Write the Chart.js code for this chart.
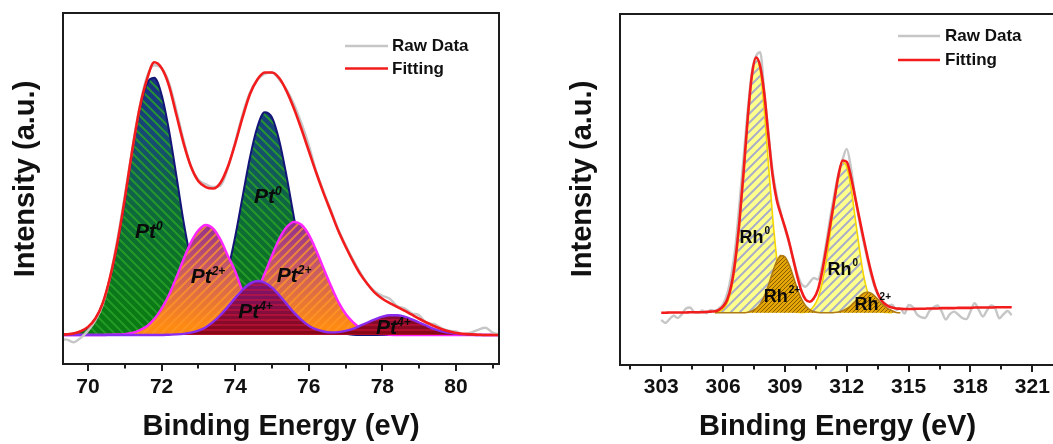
<!DOCTYPE html>
<html><head><meta charset="utf-8">
<script src="https://cdn.jsdelivr.net/npm/chart.js@4.4.1/dist/chart.umd.min.js"></script>
<style>
html,body{margin:0;padding:0;background:#fff;overflow:hidden;width:1053px;height:444px;position:relative;}
#c1{position:absolute;left:0;top:0;}
#c2{position:absolute;left:557px;top:0;}
</style></head><body>
<canvas id="c1" width="530" height="444"></canvas>
<canvas id="c2" width="529" height="444"></canvas>
<script>
// ---------------- Pt 4f panel ----------------
const ptEnergy = [
 69.2,69.4,69.6,69.8,70.0,70.2,70.4,70.6,70.8,71.0,
 71.2,71.4,71.6,71.8,72.0,72.2,72.4,72.6,72.8,73.0,
 73.2,73.4,73.6,73.8,74.0,74.2,74.4,74.6,74.8,75.0,
 75.2,75.4,75.6,75.8,76.0,76.2,76.4,76.6,76.8,77.0,
 77.2,77.4,77.6,77.8,78.0,78.2,78.4,78.6,78.8,79.0,
 79.2,79.4,79.6,79.8,80.0,80.2,80.4,80.6,80.8,81.0,
 81.2];
const ptFit = [
 0,0.2,0.5,1.3,2.8,5.7,11,20,32,47,
 63.5,78,88,94,92,86,76,66,58,53,
 51,50.5,52.5,58,66,75,83,88,90.5,90.5,
 88.5,84,78,71,63.5,56,49,42.5,36,30.5,
 25.5,21,17.5,14.5,12.5,11,9.7,8.4,7,5.6,
 4.3,3.1,2.1,1.3,0.7,0.4,0.2,0.1,0,0,
 0];
const ptRaw = [
 -2.0,-1.5,-2.5,-1.0,1.5,5.0,10.5,20,33,48,
 64,78.5,89,93,92,87,77.5,67,58,53.5,
 52,51,51.5,57.5,66.5,76,83.5,88,90,90.5,
 88,84.5,79.5,73,65.5,56.5,49.5,43,36.5,31,
 26,21.5,17.5,15,13.5,12.5,10,9.2,7.5,6.8,
 4.2,3.8,2.4,1.5,1.2,0.3,0.8,1.8,2.5,0.8,
 0.2];
const pt0 = [
 0,0.1,0.4,1.2,2.7,5.6,10.9,19.6,31.6,46.5,
 63,77.3,86.7,88.7,82.8,70.6,55,38.8,25.7,16.4,
 11.3,10.8,14.7,22.4,33.9,47.6,61.1,71.6,76.8,75,
 66.9,54.5,40.3,27.3,16.9,9.4,4.9,2.3,1.0,0.4,
 0.1,0,0,0,0,0,0,0,0,0,
 0,0,0,0,0,0,0,0,0,0,
 0];
const pt2 = [
 0,0,0,0,0,0,0,0.1,0.2,0.3,
 0.7,1.6,3.0,5.5,9.1,13.8,19.8,26.2,32,36.1,
 37.9,36.7,32.9,27.3,22,15.2,12,15.3,21.1,27.4,
 33.2,37.2,39,38,34.6,29.2,23,17,11.5,7.3,
 4.4,2.4,1.2,0.6,0.3,0.1,0,0,0,0,
 0,0,0,0,0,0,0,0,0,0,
 0];
const pt4 = [
 0,0,0,0,0,0,0,0,0,0,
 0,0,0,0,0,0.1,0.2,0.4,0.8,1.5,
 2.7,4.5,6.9,9.7,12.8,15.6,17.7,18.6,18.1,16.3,
 13.7,10.7,7.7,5.2,3.2,1.9,1.2,0.9,1.0,1.4,
 2.1,3.2,4.3,5.4,6.3,6.8,6.8,6.3,5.4,4.3,
 3.2,2.1,1.3,0.8,0.4,0.2,0.1,0,0,0,
 0];
const ptLabelMain = ['Pt','Pt','Pt','Pt','Pt','Pt'];
const ptLabelSup  = ['0','0','2+','2+','4+','4+'];
const ptLabelE    = [71.28,74.51,72.79,75.13,74.08,77.83];
const ptLabelI    = [33.3,45.4,17.8,18.4,5.8,0.2];
const ptTicks = {min:69.32, max:81.17, step:2};

// ---------------- Rh 3d panel ----------------
const rhEnergy = [
 303.0,303.2,303.4,303.6,303.8,304.0,304.2,304.4,304.6,304.8,
 305.0,305.2,305.4,305.6,305.8,306.0,306.2,306.4,306.6,306.8,
 307.0,307.2,307.4,307.6,307.8,308.0,308.2,308.4,308.6,308.8,
 309.0,309.2,309.4,309.6,309.8,310.0,310.2,310.4,310.6,310.8,
 311.0,311.2,311.4,311.6,311.8,312.0,312.2,312.4,312.6,312.8,
 313.0,313.2,313.4,313.6,313.8,314.0,314.2,314.4,314.6,314.8,
 315.0,315.2,315.4,315.6,315.8,316.0,316.2,316.4,316.6,316.8,
 317.0,317.2,317.4,317.6,317.8,318.0,318.2,318.4,318.6,318.8,
 319.0,319.2,319.4,319.6,319.8,320.0];
const rhFit = [
 0,0,0.1,0.1,0.1,0.1,0.1,0.2,0.2,0.2,
 0.2,0.3,0.4,0.5,1.0,2.2,4.5,9.5,18.5,32,
 49,67.5,82,88,85,75.5,61,47.5,39,34,
 29.5,24.5,18.5,12.5,7.5,4.6,3.8,5.0,8.0,14,
 22,30.5,39,47.5,52.5,52,47,40,33,26,
 19.5,13.5,8.5,5.2,3.3,2.3,1.8,1.5,1.4,1.3,
 1.3,1.3,1.4,1.4,1.4,1.5,1.5,1.5,1.6,1.6,
 1.6,1.6,1.7,1.7,1.7,1.7,1.8,1.8,1.8,1.8,
 1.8,1.9,1.9,1.9,1.9,1.9];
const rhRaw = [
 -2.5,-3.5,-2.2,-1.0,-1.8,-0.5,1.5,1.8,0.2,0.0,
 0.8,-0.2,1.0,0.6,1.5,3.0,6.5,13,23,38,
 54,70,83,88.5,89.8,76,62,49,40.5,34.5,
 29,24,18.5,13.5,10,9,10.5,12,11.5,16,
 24,33,41,48,53,56.5,50,40.5,32,25,
 18.5,12.5,8,5,3.5,2.5,2.8,1.0,1.5,-0.3,
 2.7,2.0,-0.5,-1.5,-1.8,0.5,1.8,2.5,0.5,-2.3,
 -0.5,0.4,-0.6,-1.8,-2.2,0.5,3.3,1.0,-1.3,0.8,
 2.5,1.5,-1.9,-0.5,0.6,-0.8];
const rh0 = [
 null,null,null,null,null,null,null,null,null,null,
 null,null,null,0,0.4,1.3,3.5,8.2,16.8,30.4,
 47.5,66.4,81.6,88,83.6,69.8,51.2,33.4,19,9.5,
 4.2,1.7,0.6,0.2,0.1,0.3,0.9,2.3,5.0,10.1,
 17.7,27.8,38.4,47.4,51.8,50.3,43.4,33.1,22.7,13.5,
 7.3,3.4,1.5,0.6,0.2,0.1,0,null,null,null,
 null,null,null,null,null,null,null,null,null,null,
 null,null,null,null,null,null,null,null,null,null,
 null,null,null,null,null,null];
const rh2 = [
 null,null,null,null,null,null,null,null,null,null,
 null,null,null,0,0,0,0,0,0,0,
 0,0.2,0.6,1.4,3.0,5.7,9.5,13.9,17.7,19.7,
 19.3,16.6,12.6,8.2,4.8,2.4,1.1,0.4,0.1,0,
 0,0,0.1,0.3,0.7,1.4,2.5,3.9,5.4,6.7,
 7.1,6.7,5.4,3.9,2.5,1.4,0.7,0.1,0,null,
 null,null,null,null,null,null,null,null,null,null,
 null,null,null,null,null,null,null,null,null,null,
 null,null,null,null,null,null];
const rhLabelMain = ['Rh','Rh','Rh','Rh'];
const rhLabelSup  = ['0','2+','0','2+'];
const rhLabelE    = [306.80,307.97,311.07,312.38];
const rhLabelI    = [24,3.7,13,1.0];
const rhTicks = {min:301.0, max:322.1, step:3};

const xTitle = 'Binding Energy (eV)';
const yTitle = 'Intensity (a.u.)';

// ---------------- helpers ----------------
const FAM = '"Liberation Sans", Arial, Helvetica, sans-serif';
function pts(xs, ys){ return xs.map((x,i)=>({x:x, y:ys[i]})); }

const patCache = new WeakMap();
function hatchFill(spec){
  return function(context){
    const chart = context.chart;
    if (!chart.chartArea || !chart.scales.y) return spec.fallback;
    let cache = patCache.get(chart);
    if (!cache){ cache = {}; patCache.set(chart, cache); }
    if (cache[spec.key]) return cache[spec.key];
    const w = chart.width, h = chart.height;
    const off = document.createElement('canvas');
    off.width = w; off.height = h;
    const g = off.getContext('2d');
    if (spec.stops){
      const ys = chart.scales.y;
      const grad = g.createLinearGradient(0, ys.getPixelForValue(spec.from), 0, ys.getPixelForValue(spec.to));
      spec.stops.forEach(s => grad.addColorStop(s[0], s[1]));
      g.fillStyle = grad;
    } else g.fillStyle = spec.fallback;
    g.fillRect(0,0,w,h);
    g.strokeStyle = spec.hatch; g.lineWidth = spec.lw;
    g.beginPath();
    const s = spec.spacing;
    if (spec.dir === 'h'){
      for (let y=0; y<h; y+=s){ g.moveTo(0,y); g.lineTo(w,y); }
    } else if (spec.dir === 'back'){
      for (let x=-h; x<w+h; x+=s){ g.moveTo(x,0); g.lineTo(x+h*spec.k,h); }
    } else {
      for (let x=-h; x<w+h; x+=s){ g.moveTo(x,h); g.lineTo(x+h*spec.k,0); }
    }
    g.stroke();
    const pat = chart.ctx.createPattern(off, 'no-repeat');
    cache[spec.key] = pat;
    return pat;
  };
}

const frameTicks = {
  id: 'frameTicks',
  afterDraw(chart, args, o){
    const ctx = chart.ctx, a = chart.chartArea, x = chart.scales.x;
    ctx.save();
    ctx.strokeStyle = '#1c1c1c'; ctx.lineWidth = 2;
    ctx.strokeRect(a.left, a.top, a.right - a.left, a.bottom - a.top);
    ctx.beginPath();
    const half = o.step/2;
    const vals = [];
    x.ticks.forEach(t => { vals.push([t.value, true]); vals.push([t.value + half, false]); });
    if (x.ticks.length) vals.push([x.ticks[0].value - half, false]);
    vals.forEach(([v, major]) => {
      if (v < x.min || v > x.max) return;
      const p = Math.round(x.getPixelForValue(v));
      ctx.moveTo(p, a.bottom); ctx.lineTo(p, a.bottom + (major ? 7 : 4.5));
    });
    ctx.stroke();
    ctx.restore();
  }
};

// vertical axis title, centred where the reference places it
const yAxisTitle = {
  id: 'yAxisTitle',
  afterDraw(chart, args, o){
    const ctx = chart.ctx;
    ctx.save();
    ctx.translate(o.x, o.y);
    ctx.rotate(-Math.PI/2);
    ctx.font = o.font; ctx.fillStyle = '#111';
    ctx.textAlign = 'center'; ctx.textBaseline = 'middle';
    ctx.fillText(o.text, 0, 0);
    ctx.restore();
  }
};

const miniLegend = {
  id: 'miniLegend',
  afterDraw(chart, args, o){
    const ctx = chart.ctx;
    ctx.save();
    ctx.font = o.font; ctx.textBaseline = 'middle'; ctx.textAlign = 'left';
    o.order.forEach((di, i) => {
      const ds = chart.data.datasets[di];
      const yy = o.y + i*o.gap;
      ctx.strokeStyle = ds.borderColor; ctx.lineWidth = ds.borderWidth;
      ctx.beginPath(); ctx.moveTo(o.x, yy); ctx.lineTo(o.x + o.len, yy); ctx.stroke();
      ctx.fillStyle = '#111';
      ctx.fillText(ds.label, o.x + o.len + o.pad, yy + 0.5);
    });
    ctx.restore();
  }
};

const peakLabels = {
  id: 'peakLabels',
  afterDatasetsDraw(chart, args, o){
    const ctx = chart.ctx, x = chart.scales.x, y = chart.scales.y;
    ctx.save();
    ctx.fillStyle = '#0a0a0a'; ctx.textBaseline = 'alphabetic'; ctx.textAlign = 'left';
    o.main.forEach((m, i) => {
      const px = x.getPixelForValue(o.e[i]), py = y.getPixelForValue(o.i[i]);
      ctx.font = o.font;
      ctx.fillText(m, px, py);
      const w = ctx.measureText(m).width;
      ctx.font = o.supFont;
      ctx.fillText(o.sup[i], px + w + o.supDx, py - o.rise);
    });
    ctx.restore();
  }
};

function build(canvasId, cfg){
  return new Chart(document.getElementById(canvasId), {
    type: 'line',
    data: { datasets: cfg.datasets },
    options: {
      responsive: false, animation: false, events: [],
      layout: { padding: { top: cfg.top, right: 31, bottom: 0, left: 0 } },
      elements: { point: { radius: 0 }, line: { cubicInterpolationMode: 'monotone' } },
      scales: {
        x: {
          type: 'linear', min: cfg.ticks.min, max: cfg.ticks.max,
          grid: { display: false, drawTicks: false }, border: { display: false },
          ticks: { stepSize: cfg.ticks.step, includeBounds: false, autoSkip: false, maxRotation: 0,
                   color: '#111', padding: cfg.tickPad,
                   font: { family: FAM, size: 21, weight: 'bold', lineHeight: 1.2 } },
          title: { display: true, text: xTitle, color: '#111',
                   font: { family: FAM, size: 29, weight: 'bold', lineHeight: 1.2 },
                   padding: { top: 0, bottom: 0 } },
          afterFit(s){ s.height = 444 - cfg.bottom; }
        },
        y: {
          min: cfg.yMin, max: cfg.yMax,
          grid: { display: false, drawTicks: false }, border: { display: false },
          ticks: { display: false },
          title: { display: false },
          afterFit(s){ s.width = 63; }
        }
      },
      plugins: {
        legend: { display: false }, tooltip: { enabled: false },
        frameTicks: { step: cfg.ticks.step },
        yAxisTitle: { text: yTitle, x: 25.5, y: 179, font: 'bold 29px ' + FAM },
        miniLegend: cfg.legend,
        peakLabels: cfg.labels
      }
    },
    plugins: [frameTicks, yAxisTitle, miniLegend, peakLabels]
  });
}

// Pt chart
build('c1', {
  top: 13, bottom: 364, yMin: -10, yMax: 111, tickPad: 11, ticks: ptTicks,
  legend: { x: 345, y: 46, gap: 22.5, len: 43, pad: 4, order: [1,0], font: 'bold 17px ' + FAM },
  labels: { main: ptLabelMain, sup: ptLabelSup, e: ptLabelE, i: ptLabelI,
            font: 'italic bold 21px ' + FAM, supFont: 'italic bold 12px ' + FAM, supDx: 0, rise: 8 },
  datasets: [
    { label: 'Fitting', data: pts(ptEnergy, ptFit), borderColor: '#f21c1c', borderWidth: 2.6, fill: false },
    { label: 'Raw Data', data: pts(ptEnergy, ptRaw), borderColor: '#c6c6c6', borderWidth: 2.4, fill: false },
    { label: 'Pt4+', data: pts(ptEnergy, pt4), borderColor: '#8a2cf0', borderWidth: 2.4, fill: 'origin',
      backgroundColor: hatchFill({ key: 'pt4', fallback: '#800a30', from: 19, to: 0,
        stops: [[0,'#7a167a'],[1,'#8a0812']], hatch: 'rgba(205,20,60,0.55)', dir: 'h', spacing: 5, lw: 2 }) },
    { label: 'Pt2+', data: pts(ptEnergy, pt2), borderColor: '#ff26ff', borderWidth: 2.4, fill: 'origin',
      backgroundColor: hatchFill({ key: 'pt2', fallback: '#f08020', from: 40, to: 3,
        stops: [[0,'#8c2c92'],[0.45,'#c4586a'],[1,'#ff8a12']], hatch: 'rgba(255,150,40,0.75)', dir: 'fwd', k: 1, spacing: 9, lw: 2 }) },
    { label: 'Pt0', data: pts(ptEnergy, pt0), borderColor: '#141478', borderWidth: 2, fill: 'origin',
      backgroundColor: hatchFill({ key: 'pt0', fallback: '#0a7a16', from: 92, to: 8,
        stops: [[0,'#1a2c86'],[0.3,'#164c74'],[0.6,'#0e6a3a'],[1,'#0a7a14']], hatch: 'rgba(40,160,40,0.85)', dir: 'back', k: 1, spacing: 9, lw: 2 }) }
  ]
});

// Rh chart
build('c2', {
  top: 14, bottom: 365, yMin: -18, yMax: 103, tickPad: 10, ticks: rhTicks,
  legend: { x: 341, y: 36, gap: 24, len: 42, pad: 5, order: [1,0], font: 'bold 17px ' + FAM },
  labels: { main: rhLabelMain, sup: rhLabelSup, e: rhLabelE, i: rhLabelI,
            font: 'bold 18px ' + FAM, supFont: 'bold 10px ' + FAM, supDx: 1, rise: 9.5 },
  datasets: [
    { label: 'Fitting', data: pts(rhEnergy, rhFit), borderColor: '#f21c1c', borderWidth: 2.6, fill: false },
    { label: 'Raw Data', data: pts(rhEnergy, rhRaw), borderColor: '#c6c6c6', borderWidth: 2.4, fill: false },
    { label: 'Rh2+', data: pts(rhEnergy, rh2), borderColor: '#b07a12', borderWidth: 1.6, fill: 'origin',
      backgroundColor: hatchFill({ key: 'rh2', fallback: '#e4a606', hatch: 'rgba(95,60,0,0.7)', dir: 'fwd', k: 1, spacing: 4, lw: 1 }) },
    { label: 'Rh0', data: pts(rhEnergy, rh0), borderColor: '#f2d400', borderWidth: 1.6, fill: 'origin',
      backgroundColor: hatchFill({ key: 'rh0', fallback: '#ffff8c', hatch: '#a9aec8', dir: 'fwd', k: 1, spacing: 9, lw: 2 }) }
  ]
});
</script>
</body></html>
